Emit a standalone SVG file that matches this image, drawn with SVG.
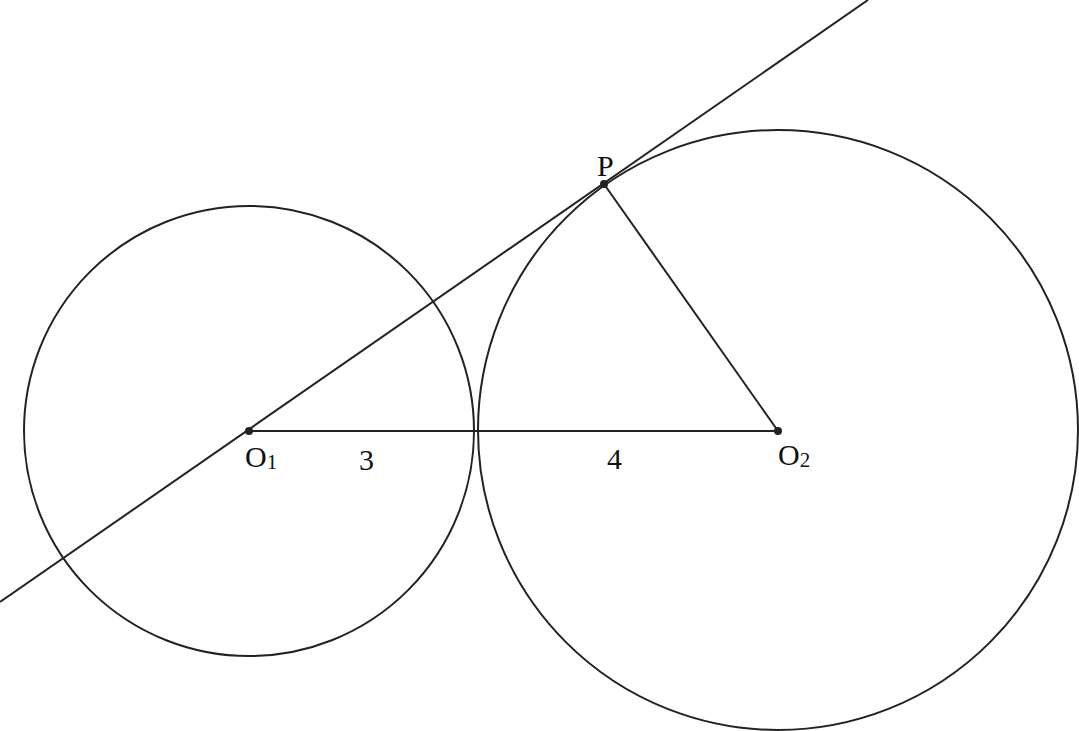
<svg xmlns="http://www.w3.org/2000/svg" width="1079" height="731" viewBox="0 0 1079 731">
<style>
.s{fill:none;stroke:#222;stroke-width:2}
.t{font-family:"Liberation Serif","Times New Roman",serif;font-size:30px;fill:#111}
.sub{font-size:21px}
.d{fill:#222}
</style>
<rect width="1079" height="731" fill="#fff"/>
<g id="connectors">
<line class="s" x1="0" y1="602" x2="868" y2="0"/>
<line class="s" x1="249" y1="431" x2="778" y2="431"/>
<line class="s" x1="604" y1="184" x2="778" y2="431"/>
</g>
<g id="circle1"><circle class="s" cx="249" cy="431" r="225"/></g>
<g id="circle2"><circle class="s" cx="778" cy="430" r="300"/></g>
<g id="O1"><circle class="d" cx="249" cy="431" r="4"/><text class="t" x="245" y="467">O<tspan class="sub" dy="2">1</tspan></text></g>
<g id="O2"><circle class="d" cx="778" cy="431" r="4"/><text class="t" x="778" y="465">O<tspan class="sub" dy="2">2</tspan></text></g>
<g id="P"><circle class="d" cx="604" cy="184" r="4"/><text class="t" x="597" y="176">P</text></g>
<g id="label3"><text class="t" x="359" y="470">3</text></g>
<g id="label4"><text class="t" x="607" y="469">4</text></g>
</svg>
